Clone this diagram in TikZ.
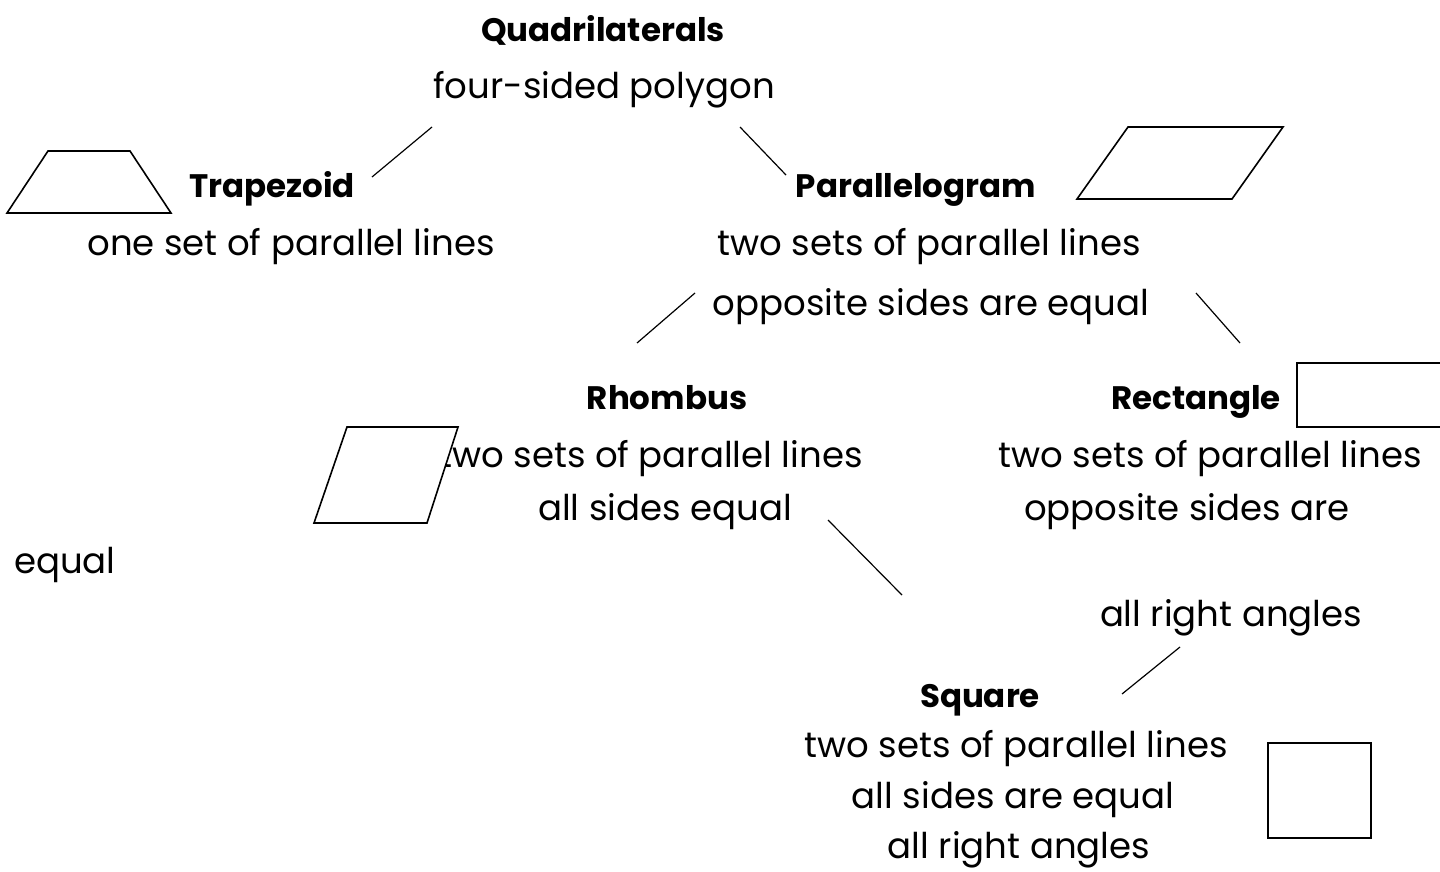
\documentclass[tikz,border=0pt]{standalone}
\usepackage{fontspec}
\setmainfont{Poppins}
\begin{document}
\begin{tikzpicture}[x=1pt, y=-1pt,
  title/.style={font=\fontsize{32.5}{38}\selectfont\bfseries, anchor=base, inner sep=0pt},
  desc/.style={font=\fontsize{35.5}{42}\selectfont, anchor=base, inner sep=0pt},
  figline/.style={draw, line width=1.6pt, fill=white, line join=miter},
  link/.style={line width=1.2pt}]

\useasboundingbox[fill=white] (0,0) rectangle (1440,871);

% texts
\node[title] (quad) at (603,41) {Quadrilaterals};
\node[desc] (quaddesc) at (604,98) {four-sided polygon};
\node[title] (trap) at (272,197) {Trapezoid};
\node[desc] (trapdesc) at (291,255) {one set of parallel lines};
\node[title] (para) at (916,197) {Parallelogram};
\node[desc] (paradesc) at (929,255) {two sets of parallel lines};
\node[desc] (paradesc2) at (931,315) {opposite sides are equal};
\node[title] (rhom) at (667,409) {Rhombus};
\node[desc] (rhomdesc) at (651,467) {two sets of parallel lines};
\node[desc] (rhomdesc2) at (665,520) {all sides equal};
\node[title] (rect) at (1196,409) {Rectangle};
\node[desc] (rectdesc) at (1210,467) {two sets of parallel lines};
\node[desc] (rectdesc2) at (1187,520) {opposite sides are};
\node[desc] (rectdesc3) at (65,573) {equal};
\node[desc] (rectdesc4) at (1231,626) {all right angles};
\node[title] (squ) at (980,707) {Square};
\node[desc] (squdesc) at (1016,757) {two sets of parallel lines};
\node[desc] (squdesc2) at (1013,808) {all sides are equal};
\node[desc] (squdesc3) at (1019,858) {all right angles};

% shapes
\draw[figline] (7,213) -- (48,151) -- (130,151) -- (171,213) -- cycle;
\draw[figline] (1077,199) -- (1128,127) -- (1283,127) -- (1232,199) -- cycle;
\draw[figline] (314,523) -- (347,427) -- (458,427) -- (427,523) -- cycle;
\draw[figline] (1441,363) -- (1297,363) -- (1297,427) -- (1441,427);
\draw[figline] (1268,743) rectangle (1371,838);

% connectors
\coordinate (q1) at (432,127);
\coordinate (q2) at (372,177);
\coordinate (q3) at (740,127);
\coordinate (q4) at (786,175);
\coordinate (p1) at (695,293);
\coordinate (p2) at (637,343);
\coordinate (p3) at (1196,293);
\coordinate (p4) at (1240,343);
\coordinate (r1) at (828,520);
\coordinate (r2) at (902,595);
\coordinate (s1) at (1180,647);
\coordinate (s2) at (1122,694);
\draw[link] (q1) -- (q2);
\draw[link] (q3) -- (q4);
\draw[link] (p1) -- (p2);
\draw[link] (p3) -- (p4);
\draw[link] (r1) -- (r2);
\draw[link] (s1) -- (s2);
\end{tikzpicture}
\end{document}
